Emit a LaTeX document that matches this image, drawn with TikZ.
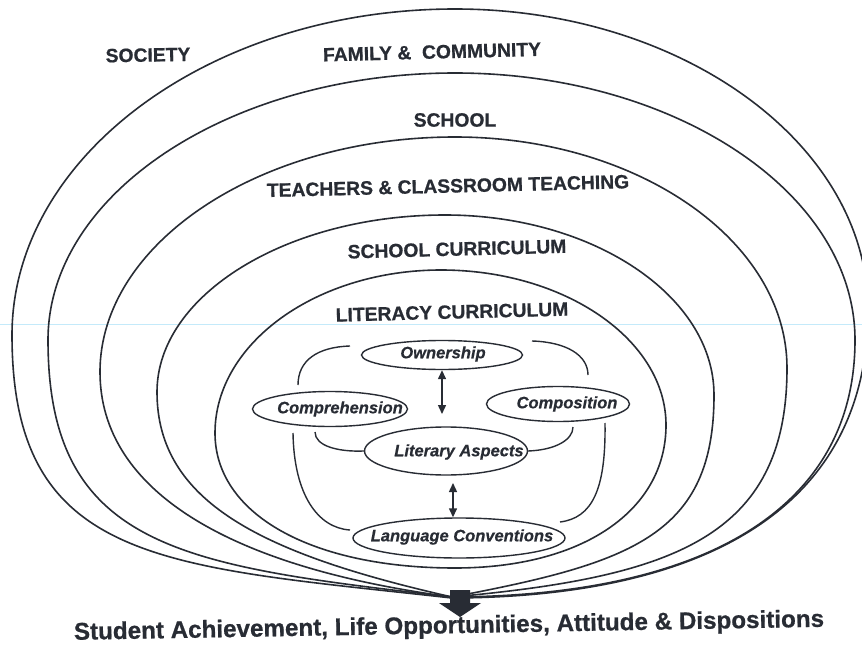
\documentclass[tikz,border=0pt]{standalone}
\usepackage{fontspec}
\setmainfont{Liberation Sans}[BoldFeatures={FakeBold=0.7},BoldItalicFeatures={FakeBold=0.5}]
\usetikzlibrary{shapes.geometric,arrows.meta}
\definecolor{ink}{RGB}{40,44,52}
\definecolor{scanline}{RGB}{196,234,250}

\begin{document}
\begin{tikzpicture}[x=1pt,y=-1pt,
  ring/.style={draw=ink, line width=1.6pt},
  ringlabel/.style={font=\fontsize{19.3}{22}\selectfont\bfseries, text=ink, inner sep=0pt},
  aspect/.style={ellipse, draw=ink, line width=1.4pt, inner sep=0pt},
  aspectlabel/.style={font=\fontsize{16.5}{19}\selectfont\bfseries\itshape, text=ink, inner sep=0pt},
  outcomelabel/.style={font=\fontsize{24.2}{28}\selectfont\bfseries, text=ink, inner sep=0pt},
  link/.style={draw=ink, line width=1.4pt},
  twoway/.style={draw=ink, line width=1.4pt,
    {Triangle[length=9pt,width=8pt]}-{Triangle[length=9pt,width=8pt]}},
]
\fill[white] (0,0) rectangle (862,647);
\useasboundingbox (0,0) rectangle (862,647);
\clip (0,0) rectangle (862,647);

% faint ruled line of the page
\draw[scanline, line width=1pt] (0,324) -- (862,324);

% nested layers of influence: bottom -> left -> top -> right -> bottom
% society / family & community
\draw[ring] (452,598) .. controls (165,566) and (12,565) .. (12,335)
  .. controls (12,156) and (211,9) .. (455,9)
  .. controls (682,9) and (868,144) .. (868,310)
  .. controls (868,510) and (702,597) .. (452,598) -- cycle;
% school
\draw[ring] (452,597) .. controls (185,566) and (48,550) .. (48,340)
  .. controls (48,193) and (231,73) .. (455,73)
  .. controls (675,73) and (855,193) .. (855,340)
  .. controls (855,510) and (702,596) .. (452,597) -- cycle;
% teachers & classroom teaching
\draw[ring] (452,597) .. controls (232,568) and (100,492) .. (100,372)
  .. controls (100,243) and (260,137) .. (455,137)
  .. controls (638,137) and (787,241) .. (787,368)
  .. controls (787,538) and (672,577) .. (452,597) -- cycle;
% school curriculum
\draw[ring] (452,597) .. controls (262,554) and (157,502) .. (157,392)
  .. controls (157,295) and (287,215) .. (445,215)
  .. controls (593,215) and (714,296) .. (714,395)
  .. controls (714,535) and (632,563) .. (452,597) -- cycle;
% literacy curriculum
\draw[ring] (455,568) .. controls (311,568) and (215,514) .. (215,433)
  .. controls (215,343) and (317,270) .. (441,270)
  .. controls (565,270) and (666,340) .. (666,425)
  .. controls (666,511) and (582,568) .. (455,568) -- cycle;

% layer names
\node[ringlabel, rotate=1] (society) at (148,55) {SOCIETY};
\node[ringlabel, rotate=1.5] (family) at (432,52) {FAMILY \&\ \ COMMUNITY};
\node[ringlabel] (school) at (455,120) {SCHOOL};
\node[ringlabel, rotate=1.4] (teachers) at (448,186) {TEACHERS \& CLASSROOM TEACHING};
\node[ringlabel, rotate=1.5] (schoolcur) at (457,249) {SCHOOL CURRICULUM};
\node[ringlabel, rotate=1.5] (litcur) at (452,312) {LITERACY CURRICULUM};

% aspects of literacy
\node[aspect, minimum width=161pt, minimum height=29pt] (own) at (442,355) {};
\node[aspectlabel] at (443,354) {Ownership};
\node[aspect, minimum width=155pt, minimum height=35pt] (compr) at (330,409) {};
\node[aspectlabel] at (340,409) {Comprehension};
\node[aspect, minimum width=143pt, minimum height=35pt] (compo) at (558,404) {};
\node[aspectlabel] at (567,404) {Composition};
\node[aspect, minimum width=163pt, minimum height=48pt] (lit) at (446,451) {};
\node[aspectlabel] at (459,452) {Literary Aspects};
\node[aspect, minimum width=212pt, minimum height=40pt] (lc) at (459,538) {};
\node[aspectlabel] at (462,537) {Language Conventions};

% two-way links
\coordinate (ownlit) at (442,414);
\draw[twoway] (own.south) -- (ownlit);
\coordinate (litlc) at (453,483);
\draw[twoway] (litlc) -- (litlc |- lc.north);

% bracket curves between the aspects
\coordinate (tlA) at (350,346);
\coordinate (tlB) at (298,385);
\draw[link] (tlA) .. controls (318,347) and (298,360) .. (tlB);
\coordinate (trA) at (532,341);
\coordinate (trB) at (588,375);
\draw[link] (trA) .. controls (566,342) and (588,355) .. (trB);
\coordinate (blA) at (315,432);
\draw[link] (blA) .. controls (315,446) and (338,452) .. (lit.west);
\coordinate (brB) at (573,427);
\draw[link] (lit.east) .. controls (555,450) and (573,440) .. (brB);
\coordinate (olA) at (293,433);
\coordinate (olB) at (350,530);
\draw[link] (olA) .. controls (294,495) and (318,528) .. (olB);
\coordinate (orA) at (605,423);
\coordinate (orB) at (560,522);
\draw[link] (orA) .. controls (606,490) and (592,518) .. (orB);

% outcome
\coordinate (sink) at (460,590);
\fill[ink] (sink) ++(-10,0) -- ++(20,0) -- ++(0,13) -- ++(11,0) -- ++(-21,14)
  -- ++(-21,-14) -- ++(11,0) -- cycle;
\node[outcomelabel, rotate=1] (outcome) at (449,627)
  {Student Achievement, Life Opportunities, Attitude \& Dispositions};
\end{tikzpicture}
\end{document}
